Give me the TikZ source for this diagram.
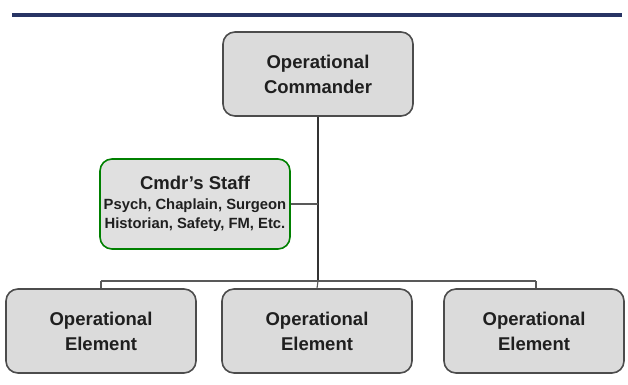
\documentclass[tikz,border=0pt]{standalone}
\usepackage{fontspec}
\setmainfont{Liberation Sans}
\begin{document}
\begin{tikzpicture}[x=1pt,y=-1pt,
  orgbox/.style={draw=black!70, line width=1.6pt, fill=black!14, rounded corners=12pt,
    minimum width=190pt, minimum height=84pt, align=center, inner sep=2pt,
    font=\fontsize{18.5}{25}\selectfont\bfseries, text=black!88},
  staffbox/.style={draw=green!50!black, line width=1.6pt, fill=black!12, rounded corners=12pt,
    minimum width=190pt, minimum height=90pt, align=center, inner sep=0pt, text=black!88,
    font=\fontsize{14.8}{19.5}\selectfont\bfseries},
  link/.style={draw=black!80, line width=1.2pt},
  bus/.style={draw=black!65, line width=1.1pt}]
\useasboundingbox (0,0) rectangle (628,384);
\fill[white] (0,0) rectangle (628,384);
\draw[line width=4pt, draw={rgb,255:red,40;green,52;blue,100}] (12,15) -- (622,15);
\node[orgbox] (cmd) at (318,74) {Operational\\Commander};
\node[staffbox] (staff) at (195,204) {{\fontsize{18.5}{22}\selectfont Cmdr's Staff}\\[0pt]
  Psych, Chaplain, Surgeon\\
  Historian, Safety, FM, Etc.};
\node[orgbox] (e1) at (101,331) {Operational\\Element};
\node[orgbox] (e2) at (317,331) {Operational\\Element};
\node[orgbox, minimum width=180pt] (e3) at (534,331) {Operational\\Element};
\coordinate (j) at (318,281);
\coordinate (bl) at (101,281);
\coordinate (br) at (536,281);
\draw[link] (cmd.south) -- (j);
\draw[bus] (staff.east) -- (staff.east -| cmd.south);
\draw[bus] (bl) -- (br);
\draw[bus] (bl) -- (e1.north);
\draw[bus] (j) -- (e2.north);
\draw[bus] (br) -- (br |- e3.north);
\end{tikzpicture}
\end{document}
